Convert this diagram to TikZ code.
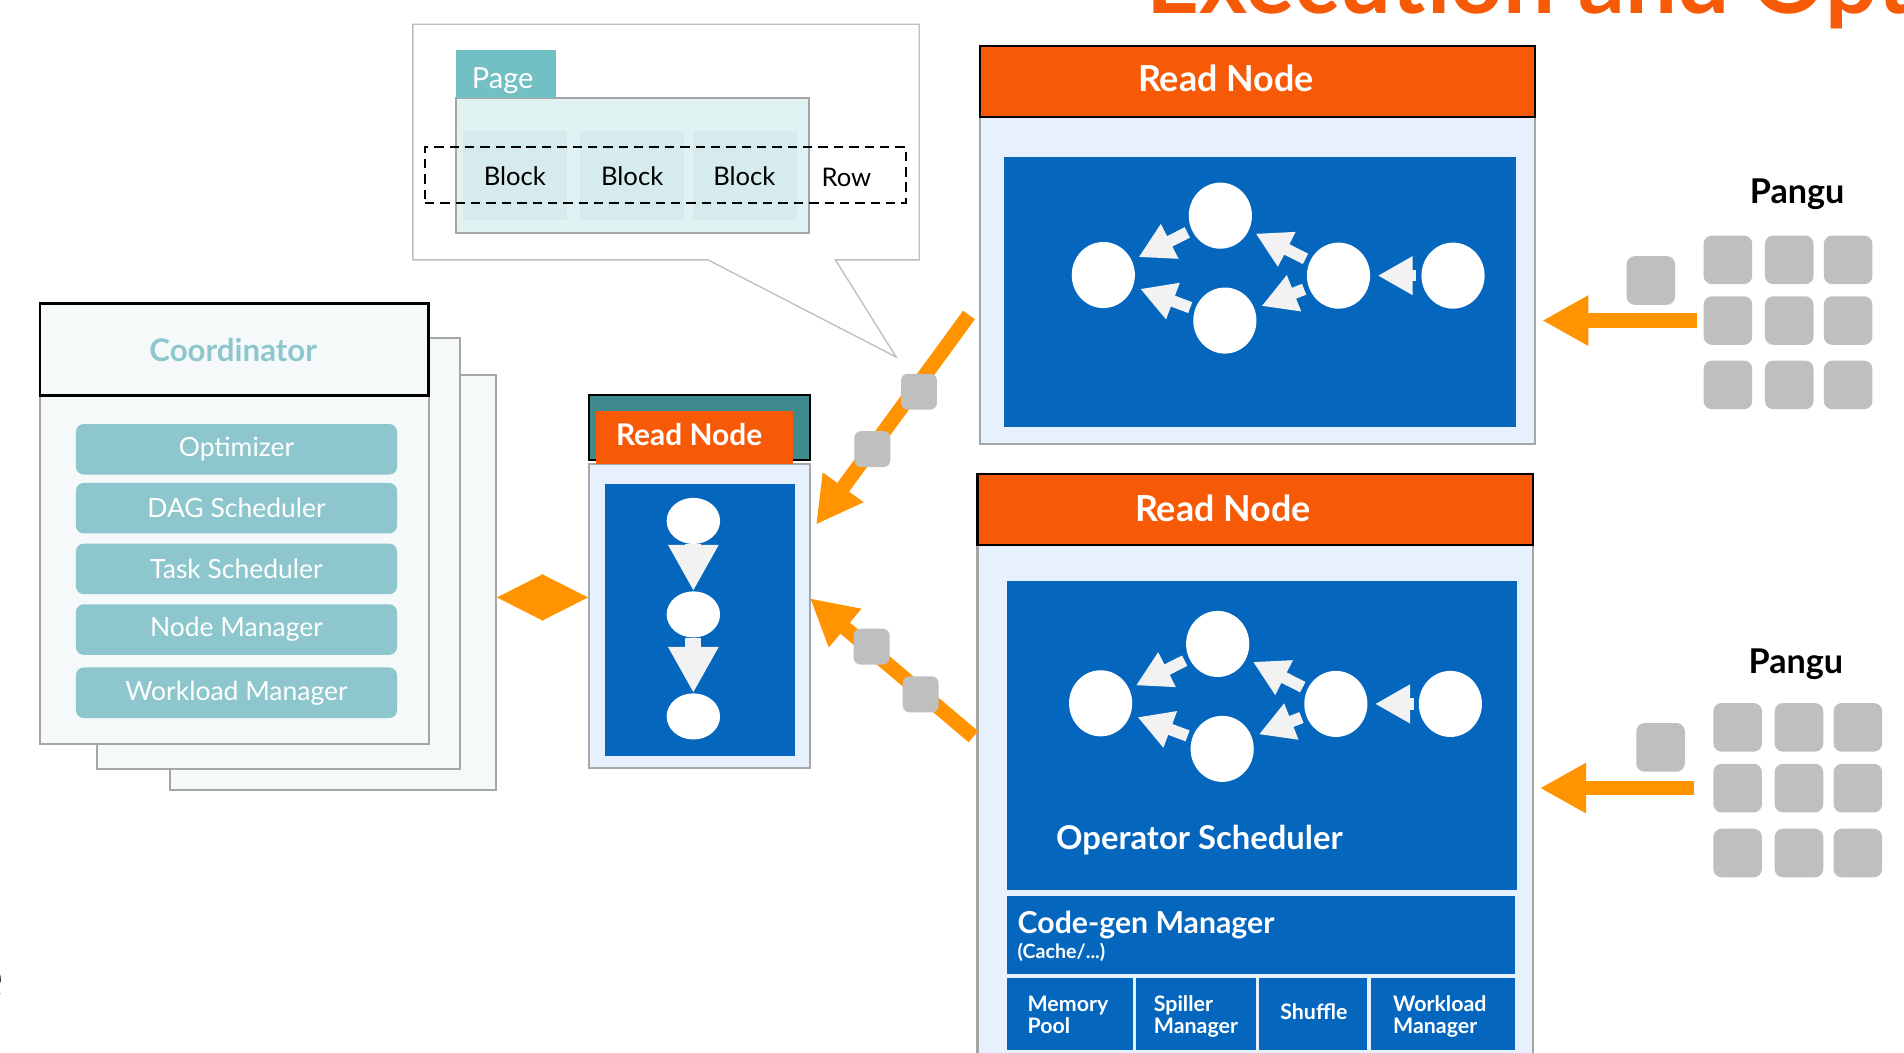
\documentclass[tikz,border=0pt]{standalone}
\usepackage{fontspec}
\setmainfont{Lato}
\usetikzlibrary{arrows.meta,shapes.geometric,fit,positioning}

\definecolor{nodeorange}{HTML}{F65A06}
\definecolor{floworange}{HTML}{FF9400}
\definecolor{boardblue}{HTML}{0566BE}
\definecolor{bodyblue}{HTML}{E6F1FD}
\definecolor{chipgray}{HTML}{BFBFBF}
\definecolor{framegray}{HTML}{A6A6A6}
\definecolor{arrowwhite}{HTML}{F2F2F2}
\definecolor{jobteal}{HTML}{8DC7CD}
\definecolor{tabteal}{HTML}{72BFC4}
\definecolor{pageteal}{HTML}{E1F2F2}
\definecolor{blockteal}{HTML}{D5EBEE}
\definecolor{darkteal}{HTML}{3E8A8E}
\definecolor{paperwhite}{HTML}{F5F9FA}

\newcommand\twolines[2]{\begin{tabular}[t]{@{}l@{}}#1\\#2\end{tabular}}

\tikzset{
    panel/.style={draw=framegray, line width=1.2pt, fill=bodyblue, inner sep=0pt},
    header/.style={draw=black, line width=1.2pt, fill=nodeorange, inner sep=0pt},
    headtext/.style={anchor=base, inner sep=0pt, text=white, font=\bfseries\fontsize{21}{25}\selectfont},
    board/.style={fill=boardblue, inner sep=0pt},
    whitetext/.style={anchor=base west, inner sep=0pt, text=white},
    op/.style={ellipse, fill=white, minimum width=1.3cm, minimum height=1.36cm, inner sep=0pt},
    opflow/.style={draw=arrowwhite, line width=0.24cm, -{Triangle[length=0.72cm,width=0.75cm]},
        shorten <=0.1cm, shorten >=0.15cm},
    flow/.style={draw=floworange, line width=0.3cm, -{Triangle[length=0.95cm,width=0.97cm]}},
    chip/.style={fill=chipgray, minimum size=1cm, rounded corners=0.17cm, inner sep=0pt},
    smallchip/.style={chip, minimum size=0.74cm, rounded corners=0.14cm},
    paper/.style={draw=framegray, line width=1.2pt, fill=paperwhite, inner sep=0pt},
    job/.style={fill=jobteal, rounded corners=0.16cm, minimum width=6.61cm, minimum height=1.04cm,
        inner sep=0pt, text=white, font=\fontsize{15.5}{18}\selectfont},
    block/.style={fill=blockteal, inner sep=0pt},
    pagetext/.style={anchor=base, inner sep=0pt, font=\fontsize{15}{18}\selectfont},
    unittext/.style={whitetext, font=\bfseries\fontsize{12.5}{12.7}\selectfont},
}

\begin{document}
\begin{tikzpicture}[x=0.025cm, y=-0.025cm]
    \useasboundingbox (0,0) rectangle (1568,867);
    \clip (0,0) rectangle (1568,867);

    \node[anchor=base west, inner sep=0pt, text=nodeorange, font=\bfseries\fontsize{54}{62}\selectfont] (title) at (944,11) {Execution and Opt};
    \node[anchor=base east, inner sep=0pt, text=black!75, font=\fontsize{36}{40}\selectfont] (cutoff) at (3.5,822) {e};

    \draw[draw=chipgray, line width=0.8pt, fill=white] (340,20) -- (757,20) -- (757,214) -- (688,214) -- (738,294) -- (583,214) -- (340,214) -- cycle;
    \node[draw=framegray, line width=1.2pt, fill=pageteal, inner sep=0pt, fit={(375.5,81) (666,192)}] (page) {};
    \node[fill=tabteal, inner sep=0pt, fit={(375.5,41) (458,81)}] (tab) {};
    \node[pagetext, text=white, font=\fontsize{17}{20}\selectfont] (tabtext) at (414,72.6) {Page};
    \node[block, fit={(381,108) (467,181)}] (blk1) {};
    \node[block, fit={(477.5,108) (563.5,181)}] (blk2) {};
    \node[block, fit={(570.5,108) (656.5,181)}] (blk3) {};
    \node[pagetext] (blktext1) at (424,152.4) {Block};
    \node[pagetext] (blktext2) at (520.6,152.4) {Block};
    \node[pagetext] (blktext3) at (613,152.4) {Block};
    \node[pagetext] (row) at (697,153.8) {Row};
    \node[draw, line width=1.2pt, dash pattern=on 5.5pt off 3.5pt, inner sep=0pt, fit={(350,121) (746,167)}] (rowbox) {};

    \node[paper, fit={(140,309) (408.5,650.5)}] (cp3) {};
    \node[paper, fit={(80,278) (379,633)}] (cp2) {};
    \node[paper, fit={(33,250) (353,613)}] (cp1) {};
    \node[paper, draw=black, line width=1.6pt, fit={(33,250) (353,326)}] (coord) {};
    \node[anchor=base, inner sep=0pt, text=jobteal, font=\bfseries\fontsize{18.3}{22}\selectfont] (coordtext) at (192,297.8) {Coordinator};
    \foreach \y/\lbl [count=\i] in {370/Optimizer, 418.5/DAG Scheduler, 468.5/Task Scheduler, 518.5/Node Manager, 570.5/Workload Manager}
        \node[job] (job\i) at (194.75,\y) {\lbl};

    \node[panel, fit={(485,382) (667,632.5)}] (rn0body) {};
    \node[draw=black, line width=1.2pt, fill=darkteal, inner sep=0pt, fit={(485,325) (667,379)}] (rn0top) {};
    \node[fill=nodeorange, inner sep=0pt, fit={(491,338.5) (653,382)}] (rn0head) {};
    \node[headtext, font=\bfseries\fontsize{17.5}{21}\selectfont] (rn0label) at (567.5,367) {Read Node};
    \node[board, fit={(498,398.6) (655,622.6)}] (rn0board) {};
    \foreach \y [count=\i] in {429,506,590}
        \node[ellipse, fill=white, minimum width=1.1cm, minimum height=0.95cm, inner sep=0pt] (s\i) at (571,\y) {};
    \draw[draw=arrowwhite, line width=0.33cm, -{Triangle[length=0.95cm,width=0.97cm]}] (s1) -- (s2);
    \draw[draw=arrowwhite, line width=0.33cm, -{Triangle[length=0.95cm,width=0.97cm]}] (s2) -- (s3);

    \coordinate (dm) at (446,492);
    \draw[draw=floworange, fill=floworange, line width=0.1pt, {Triangle[length=0.95cm,width=0.96cm]}-{Triangle[length=0.95cm,width=0.96cm]}] (cp3.east |- dm) -- (rn0body.west |- dm);

    \node[panel, fit={(807,96) (1264.4,365.7)}] (rnabody) {};
    \node[header, fit={(807,37.6) (1264.4,96)}] (rnahead) {};
    \node[headtext] (rnalabel) at (1009.5,75.5) {Read Node};
    \node[board, fit={(826.8,129) (1248.2,351.6)}] (rnaboard) {};

    \node[panel, fit={(805,448.8) (1262.5,890)}] (rnbbody) {};
    \node[header, fit={(805,390.3) (1262.5,448.8)}] (rnbhead) {};
    \node[headtext] (rnblabel) at (1007,429.6) {Read Node};
    \node[board, fit={(829.3,478.2) (1249,733)}] (rnbboard) {};
    \node[whitetext, font=\bfseries\fontsize{19.2}{23}\selectfont] (opsched) at (869.5,699.5) {Operator Scheduler};
    \node[board, fit={(829,737.5) (1248,802)}] (codegen) {};
    \node[whitetext, font=\bfseries\fontsize{17.7}{21}\selectfont] (cgname) at (837.8,768.6) {Code-gen Manager};
    \node[whitetext, font=\bfseries\fontsize{11.5}{13}\selectfont] (cgnote) at (837.8,789.2) {(Cache/...)};
    \foreach \a/\b [count=\i] in {829/932.8, 935.7/1034.6, 1036.9/1125.8, 1128.7/1248}
        \node[board, fit={(\a,805.5) (\b,864.7)}] (unit\i) {};
    \node[unittext] (unittext1) at (846,833) {\twolines{Memory}{Pool}};
    \node[unittext] (unittext2) at (950,833) {\twolines{Spiller}{Manager}};
    \node[unittext, anchor=base] (unittext3) at (1082,839.8) {Shuffle};
    \node[unittext] (unittext4) at (1147,833) {\twolines{Workload}{Manager}};

    \foreach \g/\dx/\dy in {a/0/0, b/-2.2/352.7} {
        \begin{scope}[shift={(\dx,\dy)}]
            \node[op] (\g1) at (908.6,226.5) {};
            \node[op] (\g2) at (1005,177.6) {};
            \node[op] (\g3) at (1008.7,264) {};
            \node[op] (\g4) at (1102.3,227) {};
            \node[op] (\g5) at (1196.6,227) {};
            \draw[opflow] (\g2) -- (\g1);
            \draw[opflow] (\g3) -- (\g1);
            \draw[opflow] (\g4) -- (\g2);
            \draw[opflow] (\g4) -- (\g3);
            \draw[opflow] (\g5) -- (\g4);
        \end{scope}
    }

    \coordinate (upa) at (798,259.4);
    \coordinate (upb) at (672,432);
    \draw[flow] (upa) -- (upb);
    \node[smallchip] (ua1) at (756.8,322.6) {};
    \node[smallchip] (ua2) at (718.4,369.8) {};

    \coordinate (lowa) at (801.6,606.7);
    \coordinate (lowb) at (667,492.7);
    \draw[flow] (lowa) -- (lowb);
    \node[smallchip] (lb1) at (717.8,532.5) {};
    \node[smallchip] (lb2) at (758.2,571.8) {};

    \node[anchor=base, inner sep=0pt, font=\bfseries\fontsize{20}{24}\selectfont] (pangua) at (1480,167.5) {Pangu};
    \foreach \x [count=\c] in {1423,1473.5,1522}
        \foreach \y [count=\r] in {214,264,317}
            \node[chip] (pa\r\c) at (\x,\y) {};
    \node[chip] (pa0) at (1359.5,231) {};
    \draw[flow, shorten <=0.14cm, shorten >=0.12cm] (pa21.west) -- (rnabody.east |- pa21.west);

    \node[anchor=base, inner sep=0pt, font=\bfseries\fontsize{20}{24}\selectfont] (pangub) at (1479,554.5) {Pangu};
    \foreach \x [count=\c] in {1431,1481.5,1530}
        \foreach \y [count=\r] in {599,649,702.5}
            \node[chip] (pb\r\c) at (\x,\y) {};
    \node[chip] (pb0) at (1367.5,615.5) {};
    \draw[flow, shorten <=0.39cm, shorten >=0.12cm] (pb21.west) -- (rnbbody.east |- pb21.west);
\end{tikzpicture}
\end{document}
